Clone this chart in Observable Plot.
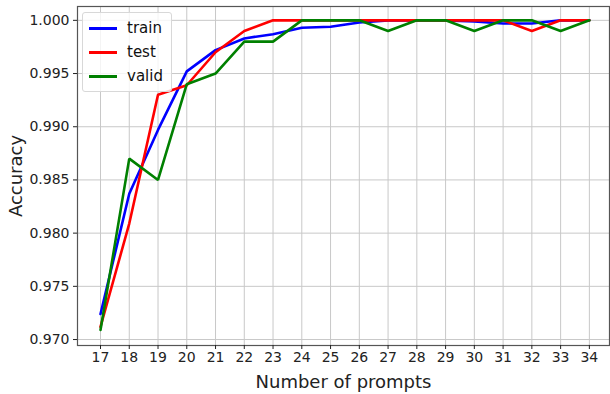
<!DOCTYPE html>
<html>
<head>
<meta charset="utf-8">
<script src="https://cdn.jsdelivr.net/npm/d3@7"></script>
<script src="https://cdn.jsdelivr.net/npm/@observablehq/plot@0.6"></script>
<style>
  html, body { margin: 0; padding: 0; background: #fff; }
  #wrap { position: relative; width: 610px; height: 394px; font-family: "DejaVu Sans", sans-serif; }
  #legend { position: absolute; left: 82px; top: 12px; background: rgba(255,255,255,0.8);
    border: 1px solid #d8d8d8; border-radius: 3px; padding: 3px 8px 3px 6px; }
  #legend .row { display: flex; align-items: center; height: 24px; font-size: 15px; color: #111; }
  #legend .sw { width: 28px; height: 3px; margin-right: 10px; }
</style>
</head>
<body>
<div id="wrap"></div>
<script>
const prompts = [17,18,19,20,21,22,23,24,25,26,27,28,29,30,31,32,33,34];
const train = [0.9724,0.9837,0.9897,0.9952,0.9972,0.9983,0.9987,0.9993,0.9994,0.9998,1.0,1.0,1.0,0.9999,0.9997,0.9997,1.0,1.0];
const test  = [0.9712,0.9809,0.9930,0.9939,0.9970,0.9990,1.0,1.0,1.0,1.0,1.0,1.0,1.0,1.0,1.0,0.9990,1.0,1.0];
const valid = [0.9709,0.9870,0.9850,0.9940,0.9950,0.9980,0.9980,1.0,1.0,1.0,0.9990,1.0,1.0,0.9990,1.0,1.0,0.9990,1.0];
const seriesNames = ["train","test","valid"];
const seriesColors = ["#0000ff","#ff0000","#008000"];
const yTicks = [0.970,0.975,0.980,0.985,0.990,0.995,1.000];

const seriesValues = [train, test, valid];
const rows = [];
seriesNames.forEach((name, si) => {
  prompts.forEach((p, i) => rows.push({series: name, x: p, y: seriesValues[si][i]}));
});

const chart = Plot.plot({
  width: 610,
  height: 394,
  marginLeft: 77,
  marginRight: 1,
  marginTop: 6,
  marginBottom: 49,
  style: {fontFamily: "DejaVu Sans, sans-serif", fontSize: "14px", color: "#222", background: "#fff"},
  x: {domain: [16.2, 34.7], ticks: prompts, tickFormat: d => String(d), tickSize: 4, tickPadding: 3,
      label: "Number of prompts", labelAnchor: "center", labelArrow: "none", labelOffset: 42},
  y: {domain: [0.96944, 1.0013], ticks: yTicks, tickFormat: d3.format(".3f"), tickSize: 4, tickPadding: 4,
      label: "Accuracy", labelAnchor: "center", labelArrow: "none", labelOffset: 68},
  color: {domain: seriesNames, range: seriesColors},
  marks: [
    Plot.gridX(prompts, {stroke: "#c8c8c8", strokeOpacity: 1, strokeWidth: 1}),
    Plot.gridY(yTicks, {stroke: "#c8c8c8", strokeOpacity: 1, strokeWidth: 1}),
    Plot.lineY(rows, {x: "x", y: "y", z: "series", stroke: "series", strokeWidth: 2.6, strokeLinejoin: "miter", curve: "linear"}),
    Plot.frame({stroke: "#555", strokeWidth: 1.2}),
    Plot.axisX({ticks: prompts, tickFormat: d => String(d), tickSize: 4, tickPadding: 3, fontSize: 14,
      label: "Number of prompts", labelAnchor: "center", labelArrow: "none", labelOffset: 42}),
    Plot.axisY({ticks: yTicks, tickFormat: d3.format(".3f"), tickSize: 4, tickPadding: 4, fontSize: 14,
      label: "Accuracy", labelAnchor: "center", labelArrow: "none", labelOffset: 68})
  ]
});

// enlarge axis labels
chart.querySelectorAll("g[aria-label='x-axis label'] text, g[aria-label='y-axis label'] text").forEach(t => {
  t.setAttribute("font-size", "18px");
  t.style.fontSize = "18px";
});

const wrap = document.getElementById("wrap");
wrap.appendChild(chart);

const legend = document.createElement("div");
legend.id = "legend";
seriesNames.forEach((name, i) => {
  const row = document.createElement("div");
  row.className = "row";
  const sw = document.createElement("span");
  sw.className = "sw";
  sw.style.background = seriesColors[i];
  const lbl = document.createElement("span");
  lbl.textContent = name;
  row.appendChild(sw); row.appendChild(lbl);
  legend.appendChild(row);
});
wrap.appendChild(legend);
</script>
</body>
</html>
